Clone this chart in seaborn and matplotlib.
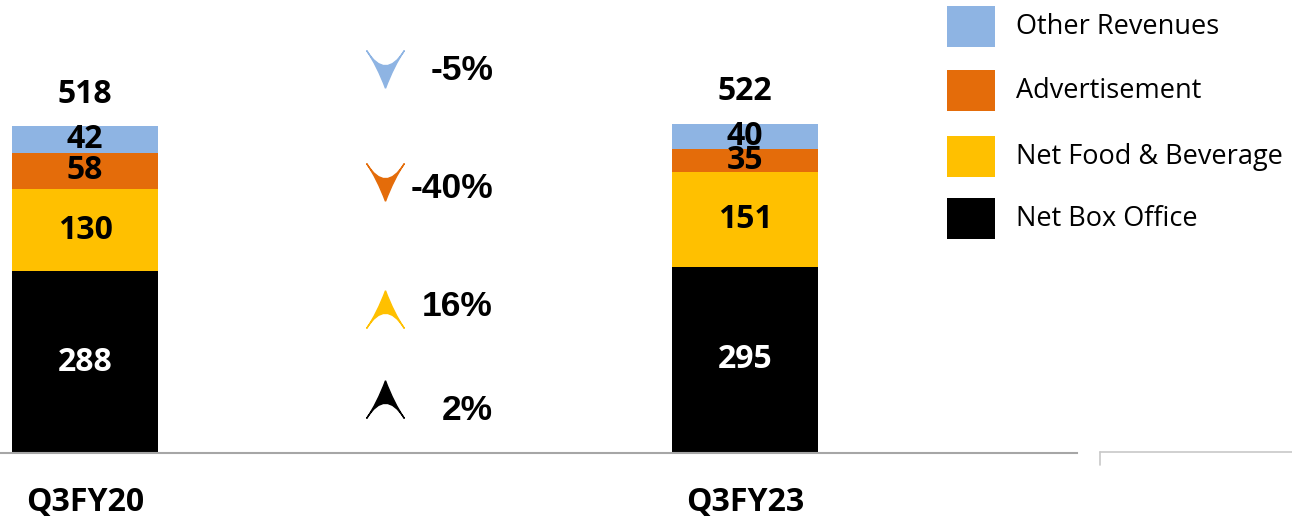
import numpy as np
import pandas as pd
import seaborn as sns
import matplotlib.pyplot as plt
from matplotlib.path import Path
from matplotlib.patches import Rectangle
from matplotlib.lines import Line2D

# data
quarters = ['Q3FY20', 'Q3FY23']
net_box_office = [288, 295]
net_food_bev = [130, 151]
advertisement = [58, 35]
other_revenues = [42, 40]
totals = [518, 522]

segments = ['Net Box Office', 'Net Food & Beverage', 'Advertisement', 'Other Revenues']
colors = {'Net Box Office': '#000000', 'Net Food & Beverage': '#FFC000',
          'Advertisement': '#E46C0A', 'Other Revenues': '#8EB4E3'}
label_colors = {'Net Box Office': 'white', 'Net Food & Beverage': 'black',
                'Advertisement': 'black', 'Other Revenues': 'black'}

df = pd.DataFrame({'quarter': quarters,
                   'Net Box Office': net_box_office,
                   'Net Food & Beverage': net_food_bev,
                   'Advertisement': advertisement,
                   'Other Revenues': other_revenues})

sns.set_style('white')
plt.rcParams['font.family'] = ['Open Sans', 'DejaVu Sans']
plt.rcParams['text.color'] = 'black'

W, H = 1292, 519
fig = plt.figure(figsize=(W / 100, H / 100), dpi=100)
PX_PER_UNIT = 0.631
ax = fig.add_axes([0, 66 / H, 1077 / W, 453 / H])

# stacked bars: draw cumulative heights tallest first
cum = df[segments].cumsum(axis=1)
for seg in reversed(segments):
    sns.barplot(x=df['quarter'], y=cum[seg], color=colors[seg], saturation=1,
                width=0.22, linewidth=0, ax=ax)

# segment labels
for i in range(len(quarters)):
    bottom = 0
    for seg in segments:
        v = df.loc[i, seg]
        ax.text(i, bottom + v / 2, str(v), ha='center', va='center',
                fontsize=23, fontweight='bold', color=label_colors[seg])
        bottom += v
    ax.annotate(str(totals[i]), (i, totals[i]), xytext=(0, 23), textcoords='offset points',
                ha='center', va='center', fontsize=23, fontweight='bold')

ax.set_xlim(-85 / 660, (1077 - 85) / 660)
ax.set_ylim(0, 453 / PX_PER_UNIT)
for s in ['top', 'right', 'left']:
    ax.spines[s].set_visible(False)
ax.spines['bottom'].set_color('#A6A6A6')
ax.spines['bottom'].set_linewidth(1.5)
ax.set_yticks([])
ax.set_xlabel('')
ax.set_ylabel('')
ax.set_xticks([0.5, 1.5])
ax.set_xticklabels([])
ax.tick_params(axis='x', which='major', length=9, width=1, color='#A6A6A6', direction='out')
ax.set_xticks([0, 1], minor=True)
ax.set_xticklabels(quarters, minor=True, fontsize=23, fontweight='bold', color='black')
ax.tick_params(axis='x', which='minor', length=0, pad=24)

# extra stub of axis on the right
fig.add_artist(Line2D([1100 / W, 1], [1 - 452 / H, 1 - 452 / H], color='#C8C8C8', lw=1.2))
fig.add_artist(Line2D([1100 / W, 1100 / W], [1 - 452 / H, 1 - 465 / H], color='#C8C8C8', lw=1.2))

# growth arrows
up = Path([(0, 1), (0.45, -0.2), (1, -1), (0, 0.6), (-1, -1), (-0.45, -0.2), (0, 1)],
          [Path.MOVETO, Path.CURVE3, Path.CURVE3, Path.CURVE3, Path.CURVE3, Path.CURVE3, Path.CURVE3])
down = Path(up.vertices * np.array([1, -1]), up.codes)
arrow_rows = {'Other Revenues': 69, 'Advertisement': 182, 'Net Food & Beverage': 309, 'Net Box Office': 399}
text_rows = {'Other Revenues': 71, 'Advertisement': 188, 'Net Food & Beverage': 306, 'Net Box Office': 410}
for seg in segments:
    pct = (df.loc[1, seg] - df.loc[0, seg]) / df.loc[0, seg] * 100
    yy = 1 - arrow_rows[seg] / H
    fig.add_artist(Line2D([385 / W], [yy], marker=down if pct < 0 else up,
                          markersize=27, color=colors[seg], lw=0))
    fig.text(493 / W, 1 - text_rows[seg] / H, f'{pct:.0f}%', ha='right', va='center',
             fontsize=25.5, fontweight='bold', family=['Liberation Sans', 'DejaVu Sans'])

# legend
legend_rows = {'Other Revenues': 27, 'Advertisement': 91, 'Net Food & Beverage': 157, 'Net Box Office': 219}
for seg in segments:
    cy = legend_rows[seg]
    fig.add_artist(Rectangle((947 / W, 1 - (cy + 20) / H), 48 / W, 41 / H,
                             transform=fig.transFigure, color=colors[seg], lw=0))
    fig.text(1016 / W, 1 - cy / H, seg, ha='left', va='center', fontsize=19.5)

fig.savefig('out.png', dpi=100)
